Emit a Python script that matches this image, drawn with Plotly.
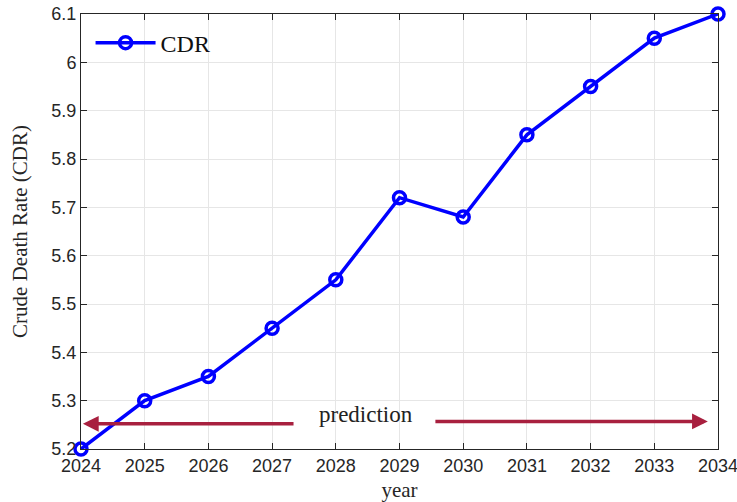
import plotly.graph_objects as go

years = [2024, 2025, 2026, 2027, 2028, 2029, 2030, 2031, 2032, 2033, 2034]
cdr = [5.2, 5.3, 5.35, 5.45, 5.55, 5.72, 5.68, 5.85, 5.95, 6.05, 6.1]
x_ticks = years
y_ticks = [5.2, 5.3, 5.4, 5.5, 5.6, 5.7, 5.8, 5.9, 6.0, 6.1]
y_tick_text = ["5.2", "5.3", "5.4", "5.5", "5.6", "5.7", "5.8", "5.9", "6", "6.1"]

serif = "Liberation Serif, DejaVu Serif, serif"
sans = "Liberation Sans, Arial, sans-serif"
arrow_color = "#A8203F"

fig = go.Figure()
fig.add_trace(go.Scatter(
    x=years, y=cdr, mode="lines+markers", name="CDR",
    line=dict(color="#0000FF", width=3.5),
    marker=dict(symbol="circle-open", size=12, color="#0000FF", line=dict(width=3.5)),
    cliponaxis=False,
))

# prediction arrows
fig.add_annotation(x=2024.03, y=5.252, ax=2027.36, ay=5.252, xref="x", yref="y", axref="x", ayref="y",
                   text="", showarrow=True, arrowhead=2, arrowsize=0.9, arrowwidth=3.5, arrowcolor=arrow_color)
fig.add_annotation(x=2033.84, y=5.257, ax=2029.54, ay=5.257, xref="x", yref="y", axref="x", ayref="y",
                   text="", showarrow=True, arrowhead=2, arrowsize=0.9, arrowwidth=3.5, arrowcolor=arrow_color)
fig.add_annotation(x=2028.48, y=5.272, xref="x", yref="y", text="prediction", showarrow=False,
                   font=dict(family=serif, size=23, color="#222222"))

axis_common = dict(showline=True, linecolor="#262626", linewidth=1, mirror="ticks",
                   ticks="inside", ticklen=6, tickcolor="#262626", automargin=False,
                   ticklabeloverflow="allow",
                   showgrid=True, gridcolor="#E6E6E6", gridwidth=1, zeroline=False,
                   tickfont=dict(family=sans, size=18, color="#262626"))

fig.update_xaxes(range=[2024, 2034], tickvals=x_ticks, **axis_common,
                 title=dict(text="year", font=dict(family=serif, size=21, color="#262626"), standoff=10))
fig.update_yaxes(range=[5.2, 6.1], tickvals=y_ticks, ticktext=y_tick_text, **axis_common,
                 title=dict(text="Crude Death Rate (CDR)", font=dict(family=serif, size=21, color="#262626"), standoff=18))

fig.update_layout(
    width=737, height=502,
    margin=dict(l=81, r=19, t=14, b=53),
    paper_bgcolor="white", plot_bgcolor="white",
    showlegend=True,
    legend=dict(x=0.015, y=0.985, xanchor="left", yanchor="top", bgcolor="rgba(255,255,255,0)",
                font=dict(family=serif, size=24, color="#111111"), itemwidth=60),
)

fig.write_html("out.html", config={"displayModeBar": False},
               post_script="document.body.style.margin='0';document.body.style.overflow='hidden';")
